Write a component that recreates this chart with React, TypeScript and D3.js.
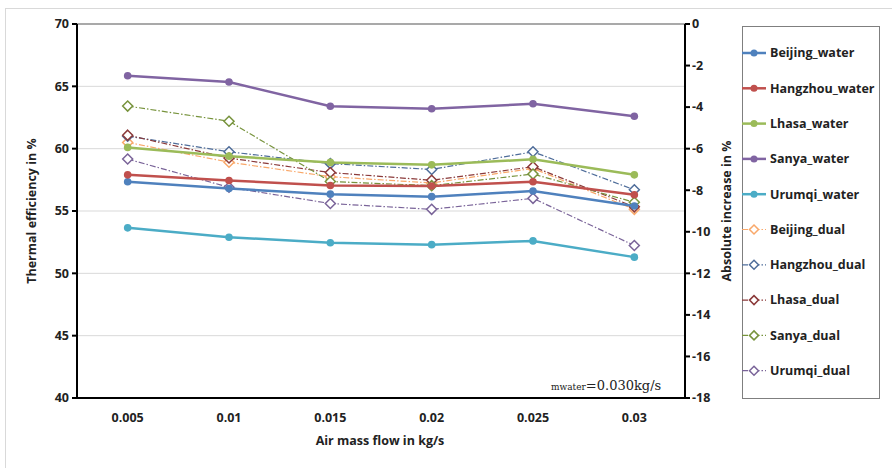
import React from "react";
import * as d3 from "d3";

const categories = ["0.005", "0.01", "0.015", "0.02", "0.025", "0.03"];
const leftTicks = [40, 45, 50, 55, 60, 65, 70];
const rightTicks = [0, -2, -4, -6, -8, -10, -12, -14, -16, -18];

const waterNames = ["Beijing_water", "Hangzhou_water", "Lhasa_water", "Sanya_water", "Urumqi_water"];
const beijingWater = [57.35, 56.8, 56.35, 56.15, 56.6, 55.4];
const hangzhouWater = [57.9, 57.45, 57.05, 57.0, 57.35, 56.3];
const lhasaWater = [60.1, 59.4, 58.9, 58.7, 59.15, 57.9];
const sanyaWater = [65.85, 65.35, 63.4, 63.2, 63.6, 62.6];
const urumqiWater = [53.65, 52.9, 52.45, 52.3, 52.6, 51.3];
const waterColors = ["#4f81bd", "#c0504d", "#9bbb59", "#8064a2", "#4bacc6"];

const dualNames = ["Beijing_dual", "Hangzhou_dual", "Lhasa_dual", "Sanya_dual", "Urumqi_dual"];
const beijingDual = [-5.7, -6.65, -7.35, -7.65, -6.95, -8.92];
const hangzhouDual = [-5.4, -6.15, -6.72, -7.0, -6.15, -7.98];
const lhasaDual = [-5.35, -6.45, -7.15, -7.52, -6.87, -8.8];
const sanyaDual = [-3.95, -4.68, -7.58, -7.78, -7.22, -8.58];
const urumqiDual = [-6.5, -7.86, -8.64, -8.92, -8.39, -10.66];
const dualColors = ["#f9a86a", "#4f6d9a", "#8b3a3a", "#77933c", "#7a6499"];

const waterSeries = [beijingWater, hangzhouWater, lhasaWater, sanyaWater, urumqiWater];
const dualSeries = [beijingDual, hangzhouDual, lhasaDual, sanyaDual, urumqiDual];

const W = 892, H = 468;
const plot = { left: 77, right: 685, top: 24, bottom: 398 };
const font = "'Open Sans', 'Liberation Sans', sans-serif";

export default function App() {
  const x = d3.scaleBand().domain(categories).range([plot.left, plot.right]);
  const xc = (c: string) => (x(c) as number) + x.bandwidth() / 2;
  const yL = d3.scaleLinear().domain([40, 70]).range([plot.bottom, plot.top]);
  const yR = d3.scaleLinear().domain([-18, 0]).range([plot.bottom, plot.top]);
  const lineL = d3.line<number>().x((_, i) => xc(categories[i])).y((v) => yL(v));
  const lineR = d3.line<number>().x((_, i) => xc(categories[i])).y((v) => yR(v));
  const diamond = (cx: number, cy: number, r = 5) =>
    `M${cx},${cy - r}L${cx + r},${cy}L${cx},${cy + r}L${cx - r},${cy}Z`;

  const legendX = 742, legendTop = 26, legendBottom = 398;
  const legendY0 = 53, legendStep = 35.3;

  return (
    <svg width={W} height={H} style={{ position: "absolute", left: 0, top: 0 }}>
      <rect x={0} y={0} width={W} height={H} fill="#fff" />
      <rect x={5.5} y={8.5} width={W} height={H} fill="none" stroke="#d9d9d9" />
      {/* gridlines */}
      {leftTicks.map((t) => (
        <line key={t} x1={plot.left} x2={plot.right} y1={yL(t)} y2={yL(t)}
          stroke={t === 70 ? "#8c8c8c" : "#d9d9d9"} strokeWidth={t === 70 ? 1.5 : 1} />
      ))}
      {/* axes */}
      <line x1={plot.left} x2={plot.left} y1={plot.top} y2={plot.bottom} stroke="#000" strokeWidth={2} />
      <line x1={plot.right} x2={plot.right} y1={plot.top} y2={plot.bottom} stroke="#000" strokeWidth={2} />
      <line x1={plot.left} x2={plot.right} y1={plot.bottom} y2={plot.bottom} stroke="#000" strokeWidth={2} />
      {leftTicks.map((t) => (
        <g key={t}>
          <line x1={plot.left - 5} x2={plot.left} y1={yL(t)} y2={yL(t)} stroke="#000" strokeWidth={2} />
          <text x={plot.left - 8} y={yL(t)} dy="0.35em" textAnchor="end" fontFamily={font} fontWeight="bold" fontSize={12.5} fill="#222">{t}</text>
        </g>
      ))}
      {rightTicks.map((t) => (
        <g key={t}>
          <line x1={plot.right} x2={plot.right + 5} y1={yR(t)} y2={yR(t)} stroke="#000" strokeWidth={2} />
          <text x={plot.right + 7} y={yR(t)} dy="0.35em" textAnchor="start" fontFamily={font} fontWeight="bold" fontSize={12.5} fill="#222">{t}</text>
        </g>
      ))}
      {categories.map((c) => (
        <text key={c} x={xc(c)} y={plot.bottom + 24} textAnchor="middle" fontFamily={font} fontWeight="bold" fontSize={12.5} fill="#222">{c}</text>
      ))}
      <text x={380} y={445} textAnchor="middle" fontFamily={font} fontWeight="bold" fontSize={12.5} fill="#222">Air mass flow in kg/s</text>
      <text transform={`translate(36,211) rotate(-90)`} textAnchor="middle" fontFamily={font} fontWeight="bold" fontSize={12.5} fill="#222">Thermal efficiency in %</text>
      <text transform={`translate(731,211) rotate(-90)`} textAnchor="middle" fontFamily={font} fontWeight="bold" fontSize={12.5} fill="#222">Absolute increase in %</text>
      {/* dual series */}
      {dualSeries.map((s, k) => (
        <g key={dualNames[k]}>
          <path d={lineR(s) as string} fill="none" stroke={dualColors[k]} strokeWidth={1.2} strokeDasharray="6 2 1.5 2" />
          {s.map((v, i) => (
            <path key={i} d={diamond(xc(categories[i]), yR(v))} fill="#fff" stroke={dualColors[k]} strokeWidth={1.5} />
          ))}
        </g>
      ))}
      {/* water series */}
      {waterSeries.map((s, k) => (
        <g key={waterNames[k]}>
          <path d={lineL(s) as string} fill="none" stroke={waterColors[k]} strokeWidth={2.5} />
          {s.map((v, i) => (
            <circle key={i} cx={xc(categories[i])} cy={yL(v)} r={3.8} fill={waterColors[k]} />
          ))}
        </g>
      ))}
      {/* annotation */}
      <text x={551} y={390} fontFamily="'DejaVu Serif', 'Liberation Serif', serif" fill="#222">
        <tspan fontSize={9}>mwater</tspan>
        <tspan fontSize={13}>=0.030kg/s</tspan>
      </text>
      {/* legend */}
      <rect x={legendX + 0.5} y={legendTop + 0.5} width={137} height={legendBottom - legendTop} fill="#fff" stroke="#7f7f7f" strokeWidth={1} />
      {waterNames.map((n, k) => {
        const ly = legendY0 + k * legendStep;
        return (
          <g key={n}>
            <line x1={legendX} x2={legendX + 24} y1={ly} y2={ly} stroke={waterColors[k]} strokeWidth={2.5} />
            <circle cx={legendX + 12} cy={ly} r={3.5} fill={waterColors[k]} />
            <text x={legendX + 28} y={ly} dy="0.35em" fontFamily={font} fontWeight="bold" fontSize={12.5} fill="#222">{n}</text>
          </g>
        );
      })}
      {dualNames.map((n, k) => {
        const ly = legendY0 + (k + 5) * legendStep;
        return (
          <g key={n}>
            <line x1={legendX} x2={legendX + 24} y1={ly} y2={ly} stroke={dualColors[k]} strokeWidth={1.2} strokeDasharray="6 2 1.5 2" />
            <path d={diamond(legendX + 12, ly, 4.5)} fill="#fff" stroke={dualColors[k]} strokeWidth={1.5} />
            <text x={legendX + 28} y={ly} dy="0.35em" fontFamily={font} fontWeight="bold" fontSize={12.5} fill="#222">{n}</text>
          </g>
        );
      })}
    </svg>
  );
}
